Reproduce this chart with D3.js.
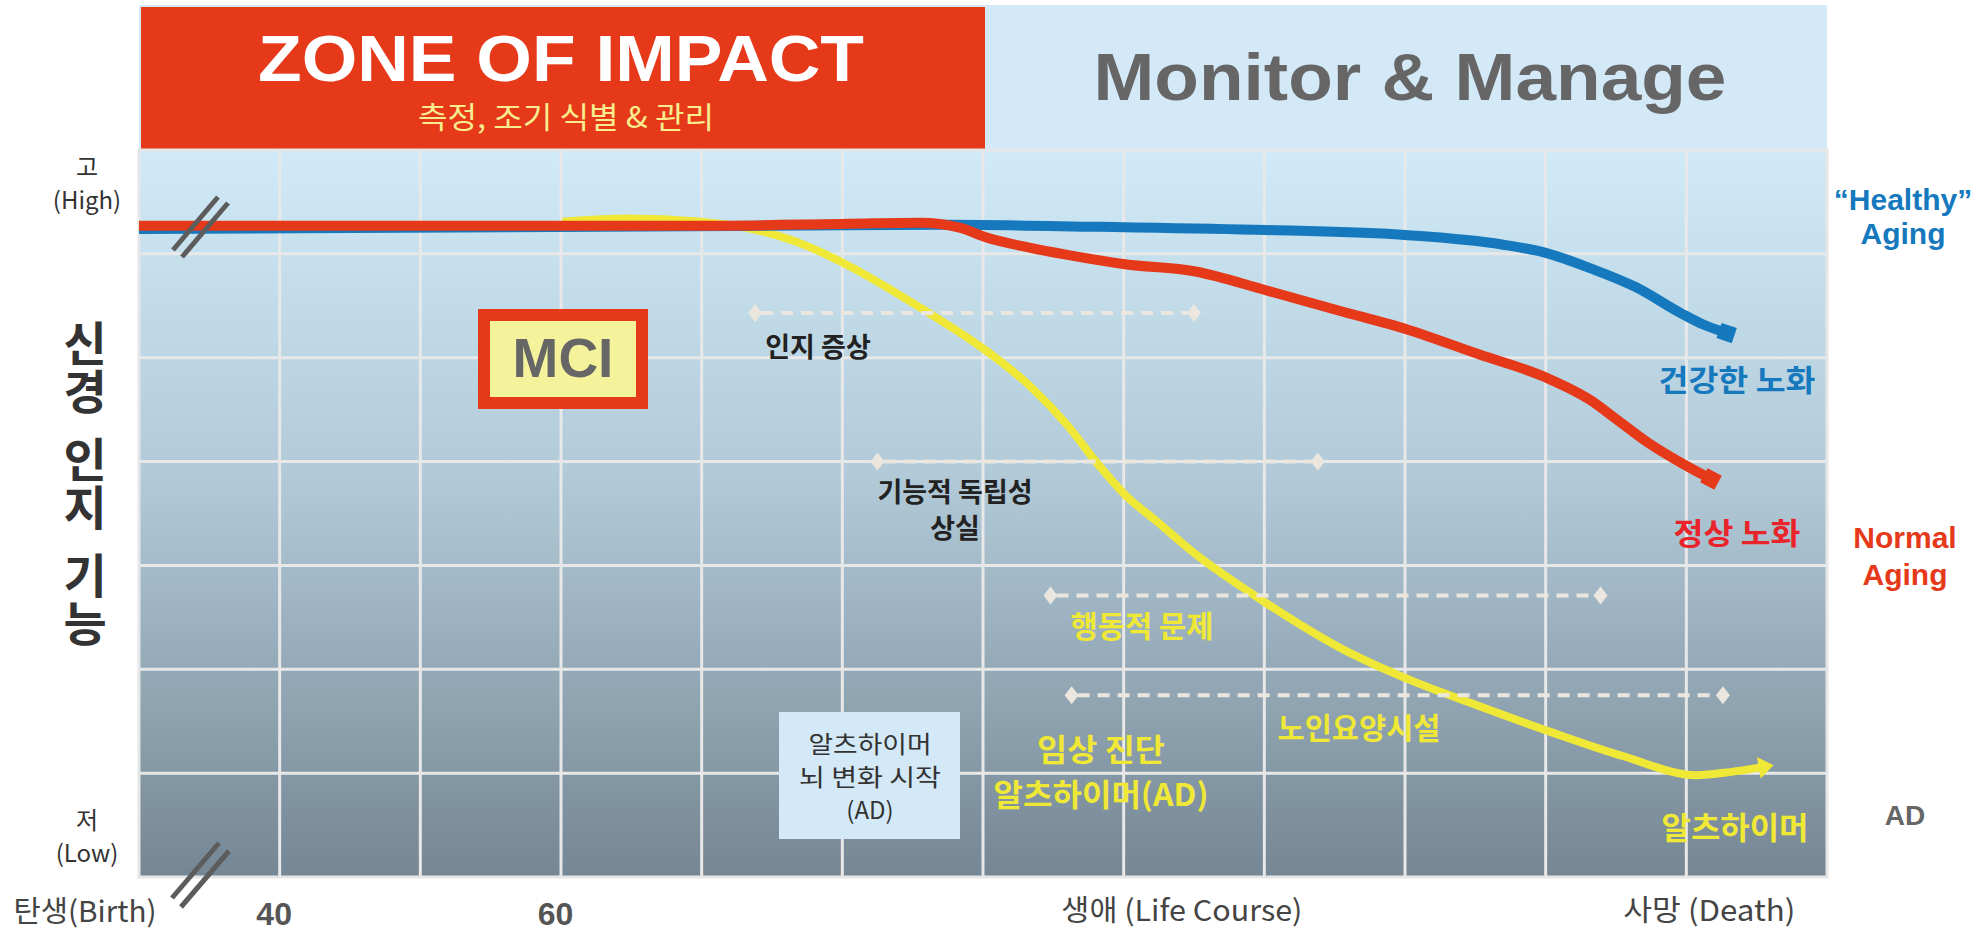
<!DOCTYPE html>
<html><head><meta charset="utf-8">
<script src="https://cdn.jsdelivr.net/npm/d3@7"></script>
<style>html,body{margin:0;padding:0;background:#fff;} svg{display:block}</style>
</head><body><svg id="c" width="1983" height="933"></svg>
<script>
// ---------------- DATA ----------------
// x = life-course position (age-like units), y = neuro-cognitive function level (0..7)
const healthyAge = [30, 62.8, 87.7, 98.3, 110.1, 120.2, 126.9, 130.0, 133.2, 136.4, 139.6, 141.2, 142.6];
const healthyVal = [6.24, 6.26, 6.28, 6.26, 6.23, 6.18, 6.09, 6.01, 5.86, 5.68, 5.43, 5.32, 5.25];

const normalAge = [30, 48.6, 69.9, 80.5, 85.5, 88.4, 90.2, 93.3, 96.0, 100.1, 105.1, 110.1, 115.4, 120.2, 125.3, 130.0, 133.2, 135.1, 137.3, 139.6, 141.5];
const normalVal = [6.27, 6.27, 6.27, 6.29, 6.30, 6.25, 6.16, 6.06, 5.99, 5.90, 5.83, 5.65, 5.45, 5.27, 5.03, 4.81, 4.59, 4.40, 4.18, 3.99, 3.85];

const adAge = [60.1, 64.8, 69.9, 72.8, 77.6, 80.1, 85.8, 90.2, 93.4, 96.0, 98.2, 100.1, 102.3, 105.0, 110.1, 115.2, 120.3, 125.4, 130.5, 135.6, 140.7, 143.1, 145.5];
const adVal = [6.31, 6.34, 6.31, 6.26, 6.07, 5.91, 5.46, 5.07, 4.72, 4.35, 3.97, 3.68, 3.43, 3.12, 2.64, 2.22, 1.90, 1.64, 1.39, 1.16, 0.98, 1.01, 1.06];

const stageLabels = ["인지 증상", "기능적 독립성 상실", "행동적 문제", "노인요양시설"];
const stageFrom   = [73.8, 82.5, 94.8, 96.3];
const stageTo     = [105.0, 113.8, 133.9, 142.6];
const stageLevel  = [5.43, 4.0, 2.71, 1.75];

const xTickValues = [40, 60];
const xTickLabels = ["40", "60"];
const xNamedValues = [104.1, 141.6];
const xNamedLabels = ["생애 (Life Course)", "사망 (Death)"];
const xGridValues = [40, 50, 60, 70, 80, 90, 100, 110, 120, 130, 140];
const yGridValues = [1, 2, 3, 4, 5, 6];
const yTitleWords = ["신경", "인지", "기능"];

// ---------------- SETUP ----------------
const svg = d3.select("#c");
const KR = '"Noto Sans CJK KR", "Noto Sans", sans-serif';
const LAT = '"Liberation Sans", Arial, sans-serif';
const x = d3.scaleLinear().domain([30, 150]).range([139, 1827]);
const y = d3.scaleLinear().domain([0, 7]).range([877, 150]);

const RED = "#e5391a", BLUE = "#1679bd", YEL = "#f0e836", LB = "#d3e9f7", DASH = "#ebe7de";

const defs = svg.append("defs");
const grad = defs.append("linearGradient").attr("id", "bg").attr("x1", 0).attr("y1", 0).attr("x2", 0).attr("y2", 1);
grad.append("stop").attr("offset", "0%").attr("stop-color", "#d0eaf8");
grad.append("stop").attr("offset", "45%").attr("stop-color", "#b2cad8");
grad.append("stop").attr("offset", "100%").attr("stop-color", "#758694");

function marker(id, color, path) {
  defs.append("marker").attr("id", id).attr("markerUnits", "userSpaceOnUse")
    .attr("viewBox", "-14 -14 28 28").attr("markerWidth", 28).attr("markerHeight", 28)
    .attr("refX", 0).attr("refY", 0).attr("orient", "auto")
    .append("path").attr("d", path).attr("fill", color);
}
marker("mRed", RED, "M-4,-8 L12,-8 L12,8 L-4,8 Z");
marker("mBlue", BLUE, "M-4,-8 L12,-8 L12,8 L-4,8 Z");
marker("mYel", YEL, "M-5,-11 L10,0 L-5,11 Z");

// ---------------- TEXT HELPERS ----------------
function txt(t, px, py, size, color, opts = {}) {
  const el = svg.append("text").attr("x", px).attr("y", py).attr("text-anchor", opts.anchor || "middle")
    .attr("font-family", opts.font || KR).attr("font-size", size)
    .attr("font-weight", opts.weight || "normal").attr("fill", color).text(t);
  if (opts.len) el.attr("textLength", opts.len).attr("lengthAdjust", "spacingAndGlyphs");
  return el;
}
// multi-line text in a single element; lines = [[text, dy, textLength?], ...]
function mtxt(lines, px, py, size, color, opts = {}) {
  const el = svg.append("text").attr("x", px).attr("y", py).attr("text-anchor", "middle")
    .attr("font-family", opts.font || KR).attr("font-size", size)
    .attr("font-weight", opts.weight || "normal").attr("fill", color);
  lines.forEach((l, i) => {
    const ts = el.append("tspan").attr("x", px).attr("dy", i === 0 ? 0 : l[1]).text(l[0]);
    if (l[2]) ts.attr("textLength", l[2]).attr("lengthAdjust", "spacingAndGlyphs");
  });
  return el;
}

// ---------------- BANNER ----------------
svg.append("rect").attr("x", 139).attr("y", 5).attr("width", 1688).attr("height", 145).attr("fill", LB);
svg.append("rect").attr("x", 141).attr("y", 7).attr("width", 844).attr("height", 143).attr("fill", RED);
txt("ZONE OF IMPACT", 561, 81, 65, "#fff", { weight: "bold", font: LAT, len: 606 });
txt("측정, 조기 식별 & 관리", 566, 128, 30, "#f7ec8e", { len: 296 });
txt("Monitor & Manage", 1410, 100, 66, "#666", { weight: "bold", font: LAT, len: 633 });

// ---------------- PLOT AREA ----------------
svg.append("rect").attr("x", x(30)).attr("y", y(7)).attr("width", x(150) - x(30)).attr("height", y(0) - y(7))
  .attr("fill", "url(#bg)");
const grid = svg.append("g").attr("stroke", "#e8e8e8").attr("stroke-width", 3);
grid.selectAll("line.v").data(xGridValues).join("line").attr("class", "v")
  .attr("x1", d => x(d)).attr("x2", d => x(d)).attr("y1", y(7)).attr("y2", y(0));
grid.selectAll("line.h").data(yGridValues).join("line").attr("class", "h")
  .attr("x1", x(30)).attr("x2", x(150)).attr("y1", d => y(d)).attr("y2", d => y(d));
svg.append("rect").attr("x", x(30)).attr("y", y(7)).attr("width", x(150) - x(30)).attr("height", y(0) - y(7))
  .attr("fill", "none").attr("stroke", "#e6e6e6").attr("stroke-width", 3);

// ---------------- CURVES ----------------
const line = d3.line().x(d => x(d[0])).y(d => y(d[1])).curve(d3.curveMonotoneX);
function series(ages, vals) { return ages.map((a, i) => [a, vals[i]]); }
svg.append("path").attr("d", line(series(adAge, adVal))).attr("fill", "none")
  .attr("stroke", YEL).attr("stroke-width", 8).attr("marker-end", "url(#mYel)");
svg.append("path").attr("d", line(series(healthyAge, healthyVal))).attr("fill", "none")
  .attr("stroke", BLUE).attr("stroke-width", 10).attr("marker-end", "url(#mBlue)");
svg.append("path").attr("d", line(series(normalAge, normalVal))).attr("fill", "none")
  .attr("stroke", RED).attr("stroke-width", 10).attr("marker-end", "url(#mRed)");

// ---------------- STAGE RANGES ----------------
const stages = stageLabels.map((l, i) => ({ l, from: stageFrom[i], to: stageTo[i], lv: stageLevel[i] }));
const sg = svg.append("g");
sg.selectAll("line").data(stages).join("line")
  .attr("x1", d => x(d.from) + 6).attr("x2", d => x(d.to) - 6)
  .attr("y1", d => y(d.lv)).attr("y2", d => y(d.lv))
  .attr("stroke", DASH).attr("stroke-width", 4).attr("stroke-dasharray", "12,8");
const ends = stages.flatMap(d => [[d.from, d.lv], [d.to, d.lv]]);
sg.selectAll("path").data(ends).join("path")
  .attr("transform", d => `translate(${x(d[0])},${y(d[1])})`)
  .attr("d", "M0,-9 L7,0 L0,9 L-7,0 Z").attr("fill", DASH);

// ---------------- ANNOTATIONS ----------------
txt("인지 증상", 818, 357, 27, "#222", { weight: "bold" });
mtxt([["기능적 독립성", 0], ["상실", 36]], 955, 502, 27, "#222", { weight: "bold" });
txt("행동적 문제", 1142, 637, 30, YEL, { weight: "bold", len: 143 });
txt("노인요양시설", 1359, 739, 30, YEL, { weight: "bold", len: 163 });
mtxt([["임상 진단", 0, 128], ["알츠하이머(AD)", 45, 215]], 1101, 761, 31, YEL, { weight: "bold" });
txt("알츠하이머", 1735, 839, 31, YEL, { weight: "bold", len: 147 });
txt("건강한 노화", 1737, 391, 30, BLUE, { weight: "bold", len: 157 });
txt("정상 노화", 1737, 544, 30, "#e8232a", { weight: "bold", len: 127 });

// right legend labels
mtxt([["\u201CHealthy\u201D", 0], ["Aging", 34]], 1903, 210, 30, BLUE, { weight: "bold", font: LAT });
mtxt([["Normal", 0], ["Aging", 37]], 1905, 548, 30, RED, { weight: "bold", font: LAT });
txt("AD", 1905, 825, 28, "#666", { weight: "bold", font: LAT });

// MCI box
svg.append("rect").attr("x", 478).attr("y", 309).attr("width", 170).attr("height", 100).attr("fill", RED);
svg.append("rect").attr("x", 490).attr("y", 321).attr("width", 146).attr("height", 76).attr("fill", "#f5f29c");
txt("MCI", 563, 377, 55, "#666", { weight: "bold", font: LAT });

// AD onset box
svg.append("rect").attr("x", 779).attr("y", 712).attr("width", 181).attr("height", 127).attr("fill", LB);
mtxt([["알츠하이머", 0, 123], ["뇌 변화 시작", 33, 142], ["(AD)", 33]], 870, 753, 24, "#333");

// ---------------- AXES ----------------
mtxt([["고", 0], ["(High)", 33]], 87, 176, 24, "#333");
mtxt([["저", 0], ["(Low)", 33]], 87, 829, 24, "#333");
// vertical y-axis title, one text per word
const wordCenters = [368, 484, 600];
yTitleWords.forEach((w, i) => {
  svg.append("text").attr("x", 85).attr("y", wordCenters[i]).attr("text-anchor", "middle")
    .style("writing-mode", "vertical-rl").style("text-orientation", "upright")
    .attr("letter-spacing", 1)
    .attr("font-family", KR).attr("font-size", 47).attr("font-weight", "bold").attr("fill", "#333").text(w);
});

const xa = svg.append("g").attr("transform", `translate(0,${y(0)})`)
  .call(d3.axisBottom(x).tickValues(xTickValues).tickFormat((d, i) => xTickLabels[i]).tickSize(0).tickPadding(25));
xa.select(".domain").remove();
xa.selectAll("text").attr("font-family", LAT).attr("font-size", 32).attr("font-weight", "bold").attr("fill", "#555")
  .attr("dx", -6);
const xb = svg.append("g").attr("transform", `translate(0,${y(0)})`)
  .call(d3.axisBottom(x).tickValues(xNamedValues).tickFormat((d, i) => xNamedLabels[i]).tickSize(0).tickPadding(23));
xb.select(".domain").remove();
const namedLen = [241, 172];
xb.selectAll("text").attr("font-family", KR).attr("font-size", 29).attr("fill", "#444")
  .attr("textLength", (d, i) => namedLen[i]).attr("lengthAdjust", "spacingAndGlyphs");
txt("탄생(Birth)", 85, 922, 29, "#444", { len: 143 });

// axis break marks
const brk = svg.append("g").attr("stroke", "#5c5c5c").attr("stroke-width", 5);
[[173, 250, 218, 197], [182, 257, 228, 203], [172, 898, 219, 843], [181, 907, 229, 851]].forEach(s =>
  brk.append("line").attr("x1", s[0]).attr("y1", s[1]).attr("x2", s[2]).attr("y2", s[3]));
</script></body></html>
